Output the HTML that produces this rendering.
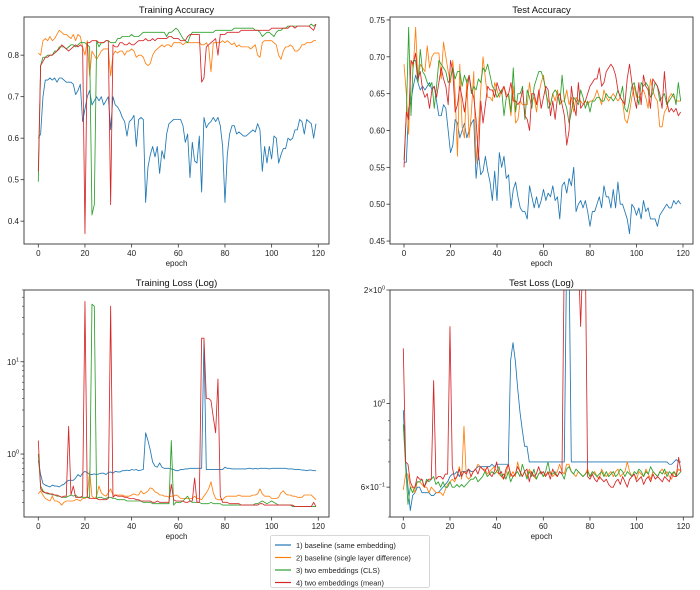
<!DOCTYPE html>
<html><head><meta charset="utf-8"><style>
body{margin:0;background:#fff;}
svg{display:block;font-family:"Liberation Sans","DejaVu Sans",sans-serif;}
</style></head><body>
<svg id="c" width="700" height="590" viewBox="0 0 700 590" xmlns="http://www.w3.org/2000/svg"></svg>
<script>
const seriesNames=["1) baseline (same embedding)","2) baseline (single layer difference)","3) two embeddings (CLS)","4) two embeddings (mean)"];
const colors=["#1f77b4","#ff7f0e","#2ca02c","#d62728"];
const xTicks=[0,20,40,60,80,100,120];
const trainAccBlue=[0.60,0.61,0.70,0.74,0.74,0.745,0.74,0.745,0.735,0.745,0.745,0.74,0.735,0.735,0.735,0.73,0.705,0.715,0.73,0.64,0.67,0.70,0.715,0.68,0.69,0.70,0.69,0.70,0.68,0.69,0.70,0.62,0.70,0.68,0.675,0.665,0.65,0.64,0.605,0.64,0.645,0.655,0.58,0.645,0.65,0.645,0.445,0.53,0.56,0.58,0.555,0.58,0.515,0.57,0.55,0.61,0.635,0.64,0.645,0.645,0.645,0.645,0.63,0.59,0.61,0.505,0.59,0.545,0.54,0.605,0.47,0.65,0.625,0.635,0.64,0.65,0.64,0.65,0.63,0.58,0.445,0.56,0.61,0.63,0.63,0.61,0.615,0.61,0.605,0.605,0.61,0.615,0.62,0.615,0.635,0.62,0.52,0.58,0.54,0.58,0.55,0.605,0.60,0.54,0.56,0.575,0.575,0.60,0.595,0.60,0.62,0.62,0.645,0.64,0.61,0.645,0.64,0.635,0.60,0.635];
const trainAccOrange=[0.805,0.80,0.835,0.84,0.835,0.845,0.835,0.84,0.85,0.86,0.855,0.85,0.85,0.845,0.84,0.85,0.835,0.85,0.845,0.82,0.80,0.835,0.75,0.81,0.80,0.79,0.80,0.81,0.815,0.815,0.815,0.75,0.80,0.81,0.805,0.81,0.81,0.80,0.81,0.81,0.815,0.81,0.795,0.80,0.80,0.795,0.78,0.775,0.78,0.80,0.81,0.815,0.82,0.825,0.82,0.825,0.825,0.82,0.83,0.83,0.83,0.83,0.825,0.83,0.83,0.83,0.83,0.83,0.83,0.83,0.825,0.825,0.83,0.82,0.76,0.83,0.83,0.83,0.83,0.835,0.83,0.835,0.83,0.825,0.83,0.82,0.825,0.82,0.82,0.82,0.82,0.815,0.82,0.825,0.80,0.795,0.83,0.835,0.835,0.835,0.835,0.83,0.825,0.80,0.79,0.81,0.82,0.82,0.825,0.82,0.81,0.81,0.815,0.825,0.825,0.83,0.83,0.83,0.835,0.835];
const trainAccGreen=[0.495,0.775,0.795,0.795,0.80,0.80,0.80,0.81,0.81,0.82,0.82,0.82,0.815,0.82,0.825,0.825,0.82,0.825,0.83,0.83,0.83,0.825,0.82,0.415,0.44,0.835,0.82,0.83,0.83,0.835,0.835,0.83,0.83,0.83,0.84,0.84,0.845,0.845,0.845,0.845,0.85,0.845,0.845,0.845,0.85,0.855,0.855,0.855,0.855,0.855,0.855,0.855,0.855,0.855,0.855,0.845,0.855,0.855,0.86,0.865,0.86,0.85,0.84,0.835,0.83,0.845,0.855,0.855,0.855,0.855,0.855,0.855,0.855,0.855,0.855,0.855,0.86,0.86,0.86,0.86,0.86,0.86,0.86,0.86,0.865,0.865,0.865,0.865,0.865,0.865,0.865,0.865,0.865,0.86,0.86,0.855,0.845,0.85,0.855,0.855,0.85,0.845,0.855,0.86,0.86,0.865,0.865,0.87,0.87,0.87,0.87,0.87,0.87,0.87,0.87,0.87,0.87,0.875,0.87,0.875];
const trainAccRed=[0.52,0.775,0.785,0.795,0.795,0.80,0.80,0.805,0.81,0.815,0.825,0.82,0.815,0.81,0.815,0.82,0.825,0.82,0.825,0.82,0.37,0.83,0.83,0.835,0.835,0.835,0.83,0.83,0.83,0.835,0.835,0.44,0.825,0.82,0.82,0.83,0.83,0.825,0.825,0.83,0.825,0.825,0.83,0.835,0.835,0.835,0.84,0.835,0.835,0.84,0.835,0.84,0.84,0.84,0.84,0.84,0.845,0.845,0.84,0.84,0.84,0.835,0.835,0.835,0.845,0.85,0.85,0.85,0.85,0.85,0.735,0.745,0.82,0.825,0.83,0.835,0.84,0.80,0.85,0.85,0.85,0.855,0.855,0.855,0.855,0.855,0.855,0.86,0.86,0.86,0.86,0.86,0.86,0.86,0.86,0.86,0.86,0.86,0.86,0.86,0.865,0.865,0.865,0.865,0.865,0.865,0.865,0.865,0.87,0.87,0.865,0.87,0.87,0.87,0.87,0.87,0.87,0.865,0.86,0.875];
const testAccBlue=[0.557,0.557,0.63,0.64,0.66,0.675,0.665,0.655,0.66,0.655,0.66,0.665,0.655,0.66,0.64,0.62,0.62,0.635,0.63,0.6,0.57,0.58,0.615,0.61,0.59,0.6,0.61,0.59,0.6,0.61,0.615,0.535,0.57,0.54,0.545,0.565,0.545,0.53,0.505,0.545,0.505,0.57,0.55,0.565,0.535,0.54,0.495,0.52,0.53,0.51,0.495,0.49,0.49,0.48,0.525,0.51,0.495,0.51,0.495,0.505,0.52,0.505,0.515,0.51,0.525,0.505,0.51,0.48,0.525,0.53,0.515,0.535,0.525,0.55,0.49,0.5,0.505,0.495,0.505,0.49,0.47,0.49,0.49,0.5,0.51,0.495,0.525,0.51,0.51,0.495,0.52,0.495,0.53,0.5,0.5,0.49,0.48,0.46,0.5,0.495,0.485,0.495,0.48,0.505,0.49,0.495,0.48,0.48,0.48,0.47,0.485,0.49,0.495,0.5,0.495,0.495,0.505,0.5,0.505,0.5];
const testAccOrange=[0.69,0.65,0.595,0.695,0.685,0.74,0.665,0.69,0.685,0.68,0.715,0.685,0.7,0.705,0.705,0.705,0.67,0.72,0.7,0.68,0.665,0.695,0.65,0.565,0.69,0.605,0.59,0.67,0.59,0.625,0.68,0.555,0.6,0.655,0.7,0.67,0.645,0.645,0.64,0.665,0.655,0.645,0.655,0.66,0.65,0.645,0.62,0.66,0.61,0.615,0.64,0.635,0.635,0.635,0.665,0.64,0.645,0.625,0.65,0.665,0.675,0.65,0.64,0.635,0.65,0.64,0.655,0.635,0.64,0.64,0.655,0.635,0.645,0.625,0.645,0.64,0.64,0.635,0.64,0.635,0.64,0.64,0.645,0.655,0.645,0.635,0.655,0.645,0.64,0.645,0.65,0.645,0.64,0.645,0.64,0.615,0.61,0.625,0.645,0.66,0.645,0.645,0.65,0.655,0.645,0.63,0.67,0.655,0.645,0.64,0.605,0.605,0.625,0.63,0.645,0.65,0.645,0.64,0.64,0.64];
const testAccGreen=[0.56,0.62,0.74,0.62,0.695,0.695,0.665,0.71,0.68,0.675,0.665,0.66,0.665,0.63,0.66,0.695,0.69,0.685,0.68,0.665,0.67,0.685,0.67,0.68,0.68,0.66,0.675,0.665,0.675,0.65,0.66,0.655,0.67,0.665,0.685,0.68,0.69,0.675,0.66,0.655,0.645,0.65,0.655,0.62,0.645,0.65,0.625,0.685,0.625,0.65,0.65,0.66,0.615,0.655,0.645,0.63,0.66,0.67,0.68,0.68,0.67,0.655,0.63,0.635,0.65,0.655,0.65,0.635,0.675,0.64,0.63,0.61,0.625,0.645,0.64,0.635,0.655,0.645,0.63,0.64,0.625,0.64,0.64,0.645,0.645,0.64,0.64,0.65,0.645,0.645,0.64,0.645,0.655,0.645,0.66,0.63,0.625,0.64,0.66,0.665,0.65,0.635,0.665,0.66,0.665,0.66,0.645,0.65,0.665,0.66,0.64,0.645,0.65,0.635,0.64,0.645,0.65,0.635,0.665,0.64];
const testAccRed=[0.55,0.625,0.615,0.695,0.69,0.705,0.67,0.68,0.655,0.645,0.65,0.63,0.655,0.66,0.645,0.665,0.685,0.67,0.66,0.635,0.695,0.68,0.625,0.635,0.66,0.645,0.625,0.65,0.675,0.655,0.645,0.615,0.56,0.64,0.61,0.635,0.66,0.655,0.655,0.645,0.665,0.655,0.65,0.66,0.645,0.65,0.665,0.64,0.64,0.635,0.64,0.655,0.62,0.615,0.6,0.65,0.65,0.635,0.655,0.63,0.645,0.66,0.655,0.62,0.64,0.615,0.645,0.65,0.635,0.62,0.58,0.6,0.66,0.635,0.62,0.665,0.63,0.635,0.64,0.65,0.66,0.665,0.67,0.67,0.685,0.66,0.665,0.68,0.685,0.69,0.685,0.675,0.655,0.645,0.64,0.635,0.67,0.69,0.665,0.645,0.63,0.665,0.635,0.675,0.66,0.655,0.63,0.67,0.665,0.66,0.65,0.63,0.68,0.64,0.625,0.63,0.625,0.63,0.62,0.625];
const trainLossBlue=[0.85,0.6,0.48,0.46,0.45,0.44,0.46,0.45,0.45,0.44,0.46,0.47,0.5,0.52,0.52,0.52,0.55,0.6,0.57,0.62,0.65,0.63,0.6,0.6,0.61,0.6,0.61,0.62,0.62,0.6,0.63,0.64,0.62,0.65,0.64,0.64,0.66,0.66,0.67,0.66,0.68,0.67,0.68,0.66,0.67,0.68,1.7,1.4,1.1,0.82,0.74,0.72,0.8,0.72,0.7,0.7,0.7,0.69,0.68,0.66,0.66,0.68,0.68,0.69,0.69,0.7,0.7,0.7,0.7,0.7,0.7,17,0.68,0.68,0.68,0.68,0.68,0.68,0.68,0.68,0.72,0.7,0.7,0.69,0.69,0.69,0.69,0.69,0.69,0.69,0.7,0.7,0.69,0.7,0.69,0.7,0.7,0.7,0.7,0.69,0.7,0.7,0.7,0.7,0.7,0.7,0.7,0.69,0.69,0.69,0.68,0.68,0.68,0.67,0.67,0.66,0.67,0.67,0.66,0.66];
const trainLossOrange=[0.37,0.4,0.36,0.33,0.32,0.31,0.35,0.31,0.31,0.3,0.28,0.3,0.31,0.31,0.31,0.31,0.32,0.32,0.31,0.33,0.33,0.35,0.65,0.35,0.33,0.35,0.45,0.38,0.36,0.35,0.38,0.42,0.36,0.36,0.36,0.36,0.36,0.35,0.35,0.35,0.36,0.37,0.36,0.36,0.4,0.37,0.38,0.4,0.43,0.42,0.39,0.38,0.36,0.36,0.35,0.35,0.34,0.35,0.35,0.36,0.35,0.33,0.33,0.33,0.33,0.33,0.33,0.35,0.33,0.33,0.32,0.35,0.38,0.42,0.5,0.38,0.33,0.32,0.32,0.32,0.34,0.35,0.35,0.35,0.35,0.35,0.36,0.35,0.35,0.35,0.35,0.35,0.36,0.36,0.37,0.42,0.37,0.35,0.35,0.35,0.33,0.33,0.33,0.34,0.38,0.4,0.37,0.36,0.36,0.35,0.35,0.34,0.34,0.34,0.36,0.36,0.36,0.36,0.34,0.32];
const trainLossGreen=[1.0,0.45,0.4,0.38,0.37,0.37,0.36,0.36,0.35,0.35,0.34,0.34,0.34,0.35,0.36,0.35,0.36,0.34,0.34,0.34,0.34,0.34,0.34,42,40,0.33,0.34,0.34,0.33,0.33,0.34,0.34,0.33,0.33,0.32,0.32,0.32,0.32,0.31,0.31,0.31,0.31,0.31,0.31,0.31,0.3,0.3,0.3,0.3,0.29,0.29,0.29,0.29,0.29,0.29,0.29,0.29,1.4,0.28,0.3,0.3,0.3,0.31,0.33,0.35,0.31,0.3,0.3,0.3,0.3,0.29,0.29,0.29,0.29,0.3,0.29,0.29,0.29,0.29,0.28,0.28,0.28,0.28,0.28,0.28,0.28,0.28,0.28,0.28,0.28,0.28,0.28,0.28,0.29,0.29,0.3,0.31,0.3,0.29,0.3,0.31,0.3,0.29,0.28,0.28,0.28,0.28,0.28,0.28,0.27,0.27,0.27,0.27,0.27,0.27,0.27,0.27,0.27,0.27,0.27];
const trainLossRed=[1.4,0.42,0.39,0.38,0.38,0.37,0.37,0.36,0.36,0.35,0.34,0.35,0.35,2.0,0.36,0.45,0.34,0.34,0.34,0.35,45,0.34,0.33,0.33,0.33,0.33,0.32,0.32,0.32,0.32,0.33,40,0.34,0.36,0.35,0.35,0.35,0.34,0.34,0.33,0.33,0.33,0.32,0.32,0.31,0.31,0.31,0.31,0.31,0.3,0.3,0.31,0.3,0.3,0.3,0.3,0.3,0.47,0.32,0.31,0.31,0.31,0.31,0.3,0.3,0.31,0.31,0.55,0.3,0.3,18,18,4,4,3.8,2.5,1.7,6.5,0.35,0.3,0.3,0.3,0.29,0.29,0.29,0.29,0.29,0.28,0.28,0.28,0.28,0.28,0.28,0.28,0.28,0.29,0.29,0.28,0.28,0.28,0.28,0.28,0.28,0.28,0.28,0.28,0.28,0.28,0.28,0.28,0.27,0.27,0.27,0.27,0.27,0.27,0.27,0.27,0.3,0.27];
const testLossBlue=[0.96,0.7,0.6,0.52,0.57,0.58,0.6,0.6,0.58,0.58,0.58,0.58,0.57,0.57,0.58,0.58,0.59,0.6,0.61,0.62,0.64,0.65,0.65,0.66,0.64,0.66,0.66,0.66,0.67,0.66,0.66,0.67,0.68,0.68,0.68,0.68,0.68,0.68,0.69,0.68,0.69,0.69,0.69,0.69,0.69,0.69,1.3,1.45,1.3,1.1,0.95,0.85,0.77,0.77,0.7,0.7,0.7,0.7,0.7,0.7,0.7,0.7,0.7,0.7,0.7,0.7,0.7,0.7,0.7,0.7,2.5,2.5,0.7,0.7,0.7,0.7,0.7,0.7,0.7,0.7,0.7,0.7,0.7,0.7,0.7,0.7,0.7,0.7,0.7,0.7,0.7,0.7,0.7,0.7,0.7,0.7,0.7,0.7,0.7,0.7,0.7,0.7,0.7,0.7,0.7,0.7,0.7,0.7,0.7,0.7,0.7,0.7,0.7,0.7,0.69,0.69,0.7,0.71,0.7,0.7];
const testLossOrange=[0.59,0.65,0.65,0.6,0.6,0.58,0.62,0.62,0.61,0.6,0.6,0.58,0.6,0.59,0.58,0.58,0.58,0.57,0.59,0.61,0.62,0.63,0.62,0.64,0.68,0.63,0.87,0.64,0.63,0.64,0.66,0.67,0.69,0.68,0.67,0.67,0.65,0.66,0.67,0.68,0.66,0.65,0.64,0.63,0.65,0.69,0.64,0.66,0.64,0.7,0.66,0.64,0.66,0.64,0.67,0.65,0.64,0.63,0.65,0.66,0.64,0.65,0.65,0.66,0.64,0.65,0.66,0.69,0.66,0.65,0.69,0.69,0.66,0.65,0.64,0.66,0.65,0.64,0.65,0.67,0.64,0.65,0.66,0.64,0.63,0.67,0.65,0.64,0.65,0.66,0.64,0.66,0.67,0.64,0.65,0.66,0.7,0.66,0.64,0.65,0.63,0.66,0.65,0.64,0.67,0.65,0.63,0.66,0.65,0.64,0.66,0.67,0.65,0.66,0.64,0.63,0.66,0.65,0.67,0.66];
const testLossGreen=[0.88,0.68,0.54,0.6,0.58,0.6,0.62,0.62,0.63,0.6,0.63,0.62,0.63,0.64,0.61,0.62,0.6,0.62,0.6,0.6,0.62,0.6,0.6,0.61,0.6,0.61,0.6,0.61,0.62,0.63,0.63,0.64,0.62,0.63,0.64,0.66,0.64,0.65,0.66,0.65,0.66,0.68,0.64,0.65,0.63,0.66,0.62,0.64,0.65,0.66,0.64,0.69,0.66,0.63,0.66,0.64,0.67,0.63,0.65,0.66,0.64,0.66,0.7,0.65,0.65,0.66,0.64,0.66,0.65,0.63,0.67,0.68,0.66,0.65,0.67,0.66,0.65,0.64,0.65,0.66,0.64,0.66,0.65,0.64,0.65,0.66,0.64,0.66,0.64,0.65,0.66,0.64,0.65,0.67,0.66,0.64,0.66,0.65,0.64,0.66,0.65,0.67,0.66,0.64,0.66,0.65,0.68,0.66,0.65,0.64,0.66,0.65,0.67,0.64,0.66,0.65,0.66,0.64,0.65,0.66];
const testLossRed=[1.4,0.7,0.69,0.62,0.6,0.6,0.64,0.63,0.63,0.6,0.62,0.63,0.63,1.15,0.63,0.64,0.64,0.63,0.65,0.65,1.6,0.68,0.63,0.64,0.67,0.64,0.66,0.65,0.67,0.64,0.66,0.67,0.65,0.68,0.67,0.66,0.68,0.65,0.64,0.66,0.7,0.65,0.66,0.63,0.67,0.69,0.65,0.64,0.65,0.68,0.66,0.64,0.66,0.67,0.62,0.66,0.64,0.65,0.68,0.65,0.66,0.64,0.66,0.63,0.67,0.65,0.64,0.66,0.65,2.5,2.5,2.5,2.5,2.5,2.5,2.5,1.6,2.5,2.5,0.64,0.63,0.65,0.63,0.62,0.64,0.63,0.62,0.63,0.61,0.6,0.6,0.62,0.63,0.61,0.64,0.62,0.6,0.63,0.64,0.65,0.62,0.63,0.64,0.61,0.63,0.64,0.62,0.65,0.63,0.64,0.63,0.62,0.64,0.63,0.62,0.65,0.64,0.64,0.72,0.66];
const accTrainTicks=[0.4,0.5,0.6,0.7,0.8];
const accTestTicks=[0.45,0.50,0.55,0.60,0.65,0.70,0.75];

const NS="http://www.w3.org/2000/svg";
const svg=document.getElementById('c');
function el(tag,attrs,parent){const e=document.createElementNS(NS,tag);for(const k in attrs)e.setAttribute(k,attrs[k]);(parent||svg).appendChild(e);return e;}

function panel(id,title,box,ymin,ymax,log,series,yTicks,yLabelFn,minorTicks){
  const g=el('g',{});
  
  
  const L=box[0],T=box[1],R=box[2],B=box[3];
  const x0=box[4],x120=box[5];
  const xs=v=>x0+(x120-x0)*v/120;
  const tf=v=>log?Math.log10(v):v;
  const ys=v=>B-(tf(v)-tf(ymin))/(tf(ymax)-tf(ymin))*(B-T);
  const cp=el('clipPath',{id:'cp-'+id},g);
  el('rect',{x:L,y:T,width:R-L,height:B-T},cp);
  const lg=el('g',{'clip-path':'url(#cp-'+id+')'},g);
  series.forEach((d,si)=>{
    const pts=d.map((v,i)=>xs(i).toFixed(2)+','+ys(v).toFixed(2)).join(' ');
    const p=el('polyline',{points:pts,fill:'none',stroke:colors[si],'stroke-width':0.85,'stroke-linejoin':'round'},lg);
    
    
  });
  const frame=el('rect',{x:L,y:T,width:R-L,height:B-T,fill:'none',stroke:'#333','stroke-width':0.9},g);
  
  
  xTicks.forEach(t=>{
    const x=xs(t);
    el('line',{x1:x,y1:B,x2:x,y2:B+3.5,stroke:'#333','stroke-width':0.8},g);
    const tx=el('text',{x:x,y:B+12,'font-size':8,'text-anchor':'middle',fill:'#222'},g);
    tx.textContent=t;
    
    
  });
  (minorTicks||[]).forEach(t=>{
    const y=ys(t);
    if(y<T-0.5||y>B+0.5)return;
    el('line',{x1:L,y1:y,x2:L-2,y2:y,stroke:'#333','stroke-width':0.6},g);
  });
  yTicks.forEach(t=>{
    const y=ys(t);
    el('line',{x1:L,y1:y,x2:L-3.5,y2:y,stroke:'#333','stroke-width':0.8},g);
    const tx=el('text',{x:L-5,y:y+3,'font-size':8,'text-anchor':'end',fill:'#222'},g);
    yLabelFn(tx,t);
    
    
  });
  const xl=el('text',{x:(L+R)/2,y:B+22,'font-size':8,'text-anchor':'middle',fill:'#222'},g);
  xl.textContent='epoch';
  
  
  const tt=el('text',{x:(L+R)/2,y:T-4,'font-size':9.5,'text-anchor':'middle',fill:'#111'},g);
  tt.textContent=title;
  
  
}
const plain=d=>(tx,t)=>{tx.textContent=t.toFixed(d);};
function sup(tx,base,exp,mant){
  if(mant){const a=el('tspan',{},tx);a.textContent=mant+'\u00d7';}
  const b=el('tspan',{},tx);b.textContent=base;
  const c=el('tspan',{'font-size':5.5,dy:-3.5},tx);c.textContent=exp;
}
const minorA=[];[0.1,1,10].forEach(d=>{for(let k=2;k<=9;k++)minorA.push(k*d);});
const minorB=[0.5,0.7,0.8,0.9];

panel('training-accuracy-panel','Training Accuracy',[24,17,329,244,38.3,318.3],0.345,0.892,false,
  [trainAccBlue,trainAccOrange,trainAccGreen,trainAccRed],accTrainTicks,plain(1));
panel('test-accuracy-panel','Test Accuracy',[390,17,693,244,404,683],0.446,0.754,false,
  [testAccBlue,testAccOrange,testAccGreen,testAccRed],accTestTicks,plain(2));
panel('training-loss-panel','Training Loss (Log)',[24,290,329,517,38.3,318.3],0.208,59.9,true,
  [trainLossBlue,trainLossOrange,trainLossGreen,trainLossRed],[1,10],(tx,t)=>sup(tx,'10',t===1?'0':'1'),minorA);
panel('test-loss-panel','Test Loss (Log)',[390,290,693,517,403.3,683.3],0.5,2.0,true,
  [testLossBlue,testLossOrange,testLossGreen,testLossRed],[0.6,1,2],(tx,t)=>{
    if(t===1)sup(tx,'10','0');else if(t===2)sup(tx,'10','0','2');else sup(tx,'10','\u22121','6');
  },minorB);

const leg=el('g',{});


el('rect',{x:270.5,y:535.5,width:159,height:52,rx:2,fill:'#fff',stroke:'#ccc','stroke-width':0.8},leg);
seriesNames.forEach((n,i)=>{
  const y=545+i*12.5;
  const en=el('g',{},leg);
  
  
  el('line',{x1:275,y1:y,x2:291,y2:y,stroke:colors[i],'stroke-width':1.2},en);
  const t=el('text',{x:296,y:y+2.8,'font-size':7.4,fill:'#222'},en);
  t.textContent=n;
});
</script>
</body></html>
